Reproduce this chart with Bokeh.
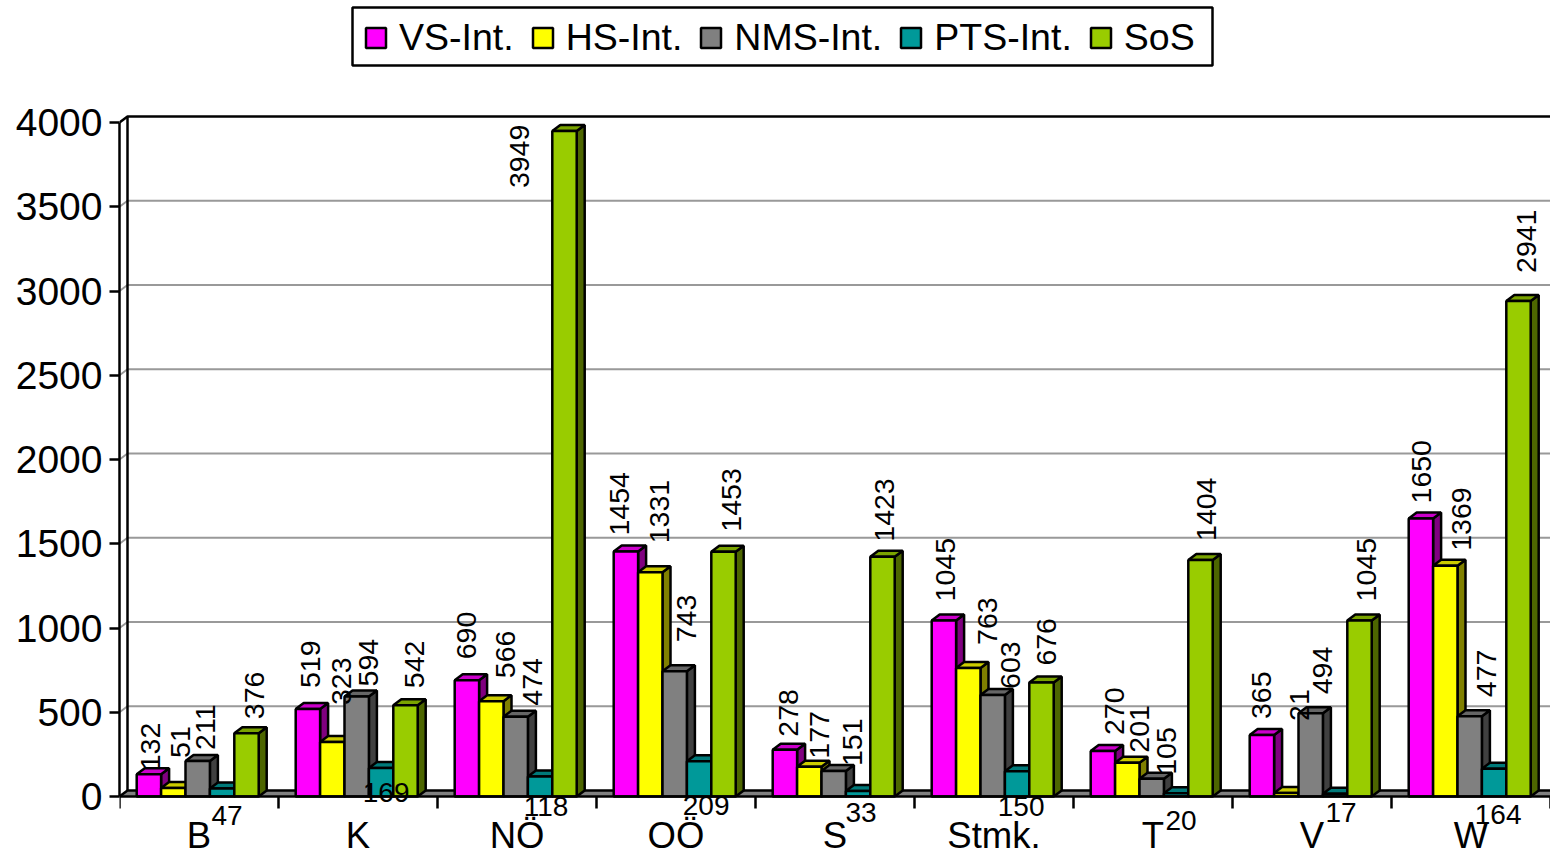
import math
from bokeh.core.properties import value
from bokeh.embed import file_html
from bokeh.models import BoxAnnotation, ColumnDataSource, FixedTicker, Legend, LegendItem, LinearAxis, Range1d
from bokeh.plotting import figure
from bokeh.resources import INLINE

categories = ["B", "K", "NÖ", "OÖ", "S", "Stmk.", "T", "V", "W"]
series_names = ["VS-Int.", "HS-Int.", "NMS-Int.", "PTS-Int.", "SoS"]
vs_int = [132, 519, 690, 1454, 278, 1045, 270, 365, 1650]
hs_int = [51, 323, 566, 1331, 177, 763, 201, 21, 1369]
nms_int = [211, 594, 474, 743, 151, 603, 105, 494, 477]
pts_int = [47, 169, 118, 209, 33, 150, 20, 17, 164]
sos = [376, 542, 3949, 1453, 1423, 676, 1404, 1045, 2941]
y_ticks = [0, 500, 1000, 1500, 2000, 2500, 3000, 3500, 4000]

FONT = "Liberation Sans"
series_values = [vs_int, hs_int, nms_int, pts_int, sos]
front = ["#FF00FF", "#FFFF00", "#808080", "#009999", "#99CC00"]
top = ["#CC00CC", "#CCCC00", "#666666", "#007A7A", "#7AA300"]
side = ["#800080", "#808000", "#404040", "#004D4D", "#4D6600"]

# label nudges in pixels (x right, y down), one per category
label_dx = [
    [2, 3, 0, -6, 4, 2, 12, 0, 1],
    [7, 9, 14, 9, 10, 19, 12, 13, 16],
    [8, 12, 17, 12, 19, 18, 15, 12, 17],
    [5, 5, 6, 7, 3, 4, 5, 6, 4],
    [8, 9, -45, 8, 2, 5, 6, 7, 8],
]
label_dy = [
    [-4, -21, -21, -16, -13, -19, -16, -16, -15],
    [-30, -37, -23, -29, -8, -23, -10, -72, -15],
    [-11, -10, -11, -29, -5, -6, -4, -19, -19],
    [27, 24, 30, 44, 22, 35, 27, 19, 46],
    [-14, -17, 57, -20, -15, -17, -19, -19, -28],
]

W, H = 1550, 856
LEFT = 119
PX_X = (W - LEFT) / len(categories)      # pixels per category
PX_Y = 674 / 4000                        # pixels per value unit
ZERO_FROM_TOP = 796
DX = 8 / PX_X
DY = 6 / PX_Y
BAR = 24.4 / PX_X
GAP = 17.2 / PX_X
N = len(categories)
LW = 2.5

p = figure(
    width=W, height=H, output_backend="svg", toolbar_location=None,
    x_range=Range1d(0, N),
    y_range=Range1d(-(H - ZERO_FROM_TOP) / PX_Y, ZERO_FROM_TOP / PX_Y),
    x_axis_type=None, y_axis_type=None,
    min_border_left=LEFT, min_border_right=0, min_border_top=0, min_border_bottom=0,
    outline_line_color=None,
)
p.grid.visible = False

# back wall and floor
p.patch([DX, N, N, DX], [DY, DY, 4000 + DY, 4000 + DY], fill_color="white", line_color=None)
grid_xs = [[0, DX, N] for t in y_ticks[1:-1]]
grid_ys = [[t, t + DY, t + DY] for t in y_ticks[1:-1]]
p.multi_line(grid_xs, grid_ys, line_color="#999999", line_width=2)
p.patch([0, DX, N, N], [0, DY, DY, 0], fill_color="#808080", line_color=None)
p.line([0, DX, N], [0, DY, DY], line_color="black", line_width=LW)
p.line([0, DX, N], [4000, 4000 + DY, 4000 + DY], line_color="black", line_width=LW)
p.line([DX, DX], [DY, 4000 + DY], line_color="black", line_width=LW)

legend_items = []
for j, vals in enumerate(series_values):
    x0 = [i + GAP + j * BAR for i in range(N)]
    x1 = [a + BAR for a in x0]
    p.patches(
        [[b, b + DX, b + DX, b] for b in x1],
        [[0, DY, v + DY, v] for v in vals],
        fill_color=side[j], line_color="black", line_width=LW,
    )
    p.patches(
        [[a, a + DX, b + DX, b] for a, b in zip(x0, x1)],
        [[v, v + DY, v + DY, v] for v in vals],
        fill_color=top[j], line_color="black", line_width=LW,
    )
    r = p.patches(
        [[a, a, b, b] for a, b in zip(x0, x1)],
        [[0, v, v, 0] for v in vals],
        fill_color=front[j], line_color="black", line_width=LW,
    )
    legend_items.append(LegendItem(label=series_names[j], renderers=[r]))

for j, vals in enumerate(series_values):
    src = ColumnDataSource(dict(
        x=[i + GAP + (j + 0.5) * BAR for i in range(N)],
        y=vals,
        t=[str(v) for v in vals],
        dx=label_dx[j],
        dy=label_dy[j],
    ))
    if series_names[j] == "PTS-Int.":
        p.text("x", "y", text="t", source=src, x_offset="dx", y_offset="dy",
               text_font=value(FONT), text_font_size="28px", text_color="black",
               text_align="center", text_baseline="middle")
    else:
        p.text("x", "y", text="t", source=src, x_offset="dx", y_offset="dy", angle=math.pi / 2,
               text_font=value(FONT), text_font_size="28.5px", text_color="black",
               text_align="left", text_baseline="middle")

yaxis = LinearAxis(
    ticker=FixedTicker(ticks=y_ticks), bounds=(0, 4000),
    major_tick_in=0, major_tick_out=10, minor_tick_out=0, minor_tick_in=0,
    major_label_standoff=7, major_label_text_font=FONT, major_label_text_font_size="39px",
    major_label_text_color="black", axis_line_color="black", axis_line_width=LW,
    major_tick_line_color="black", major_tick_line_width=LW,
)
p.add_layout(yaxis, "left")

centers = [i + 0.5 for i in range(N)]
xaxis = LinearAxis(
    ticker=FixedTicker(ticks=centers, minor_ticks=list(range(N + 1))), bounds=(0, N),
    fixed_location=0,
    major_tick_in=0, major_tick_out=0, minor_tick_in=0, minor_tick_out=12,
    major_label_standoff=6, major_label_text_font=FONT, major_label_text_font_size="36.5px",
    major_label_text_color="black", axis_line_color="black", axis_line_width=LW,
    minor_tick_line_color="black", minor_tick_line_width=LW,
    major_label_overrides={c: n for c, n in zip(centers, categories)},
)
p.add_layout(xaxis, "below")

def px_x(px):
    return (px - LEFT) / PX_X

def px_y(px):
    return (ZERO_FROM_TOP - px) / PX_Y

legend_box = BoxAnnotation(
    left=px_x(352), right=px_x(1212), top=px_y(7), bottom=px_y(65),
    fill_color="white", fill_alpha=1, line_color="black", line_width=LW, line_alpha=1,
)
p.add_layout(legend_box)

legend = Legend(
    items=legend_items, orientation="horizontal", location=(244, 856 - 73 - 7 + 21),
    glyph_width=25, glyph_height=25, label_standoff=11, spacing=16, padding=13, margin=0,
    label_text_font=FONT, label_text_font_size="37.5px", label_text_color="black",
    border_line_color=None, background_fill_alpha=0,
)
p.add_layout(legend, "center")

open("out.html", "w").write(file_html(p, INLINE))
